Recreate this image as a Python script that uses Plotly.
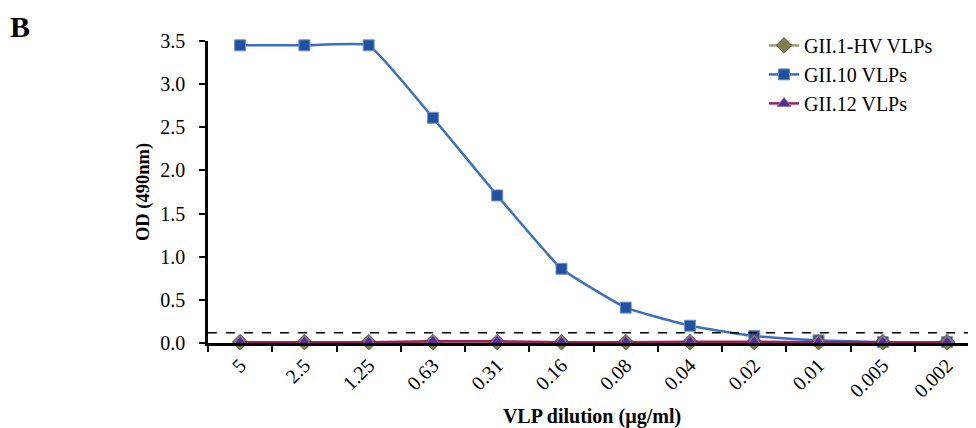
import plotly.graph_objects as go

dilutions = ["5", "2.5", "1.25", "0.63", "0.31", "0.16", "0.08", "0.04", "0.02", "0.01", "0.005", "0.002"]
gii1_hv = [0.01, 0.01, 0.01, 0.01, 0.01, 0.01, 0.01, 0.01, 0.01, 0.01, 0.01, 0.01]
gii10 = [3.45, 3.45, 3.45, 2.61, 1.71, 0.86, 0.41, 0.20, 0.08, 0.03, 0.01, 0.01]
gii12 = [0.01, 0.01, 0.01, 0.02, 0.02, 0.01, 0.01, 0.015, 0.015, 0.01, 0.01, 0.01]
cutoff = 0.12
y_ticks = [0.0, 0.5, 1.0, 1.5, 2.0, 2.5, 3.0, 3.5]

serif = "Liberation Serif, Times New Roman, serif"

fig = go.Figure()
fig.add_trace(go.Scatter(
    x=dilutions, y=gii10, name="GII.10 VLPs", mode="lines+markers",
    line=dict(color="#3a6fc2", width=2.5, shape="spline", smoothing=0.35),
    marker=dict(symbol="square", size=11, color="#22519e", line=dict(color="#6f93cf", width=1)),
    legendrank=2, cliponaxis=False,
))
fig.add_trace(go.Scatter(
    x=dilutions, y=gii1_hv, name="GII.1-HV VLPs", mode="lines+markers",
    line=dict(color="#a09c6c", width=2.5, shape="spline", smoothing=0.35),
    marker=dict(symbol="diamond", size=12, color="#7f7c50", line=dict(color="#5d5b38", width=1)),
    legendrank=1, cliponaxis=False,
))
fig.add_trace(go.Scatter(
    x=dilutions, y=gii12, name="GII.12 VLPs", mode="lines+markers",
    line=dict(color="#9c1f5e", width=2.5, shape="spline", smoothing=0.35),
    marker=dict(symbol="triangle-up", size=12, color="#5a2c92", line=dict(color="#8a73c0", width=1)),
    legendrank=3, cliponaxis=False,
))

fig.add_shape(type="line", xref="paper", yref="y", x0=0, x1=1, y0=cutoff, y1=cutoff,
              line=dict(color="black", width=1.5, dash="dash"))

fig.update_layout(
    width=968, height=420,
    margin=dict(l=200, r=0, t=33, b=85),
    paper_bgcolor="white", plot_bgcolor="white",
    font=dict(family=serif, size=20, color="black"),
    showlegend=True,
    legend=dict(x=0.724, y=1.05, xanchor="left", yanchor="top",
                bgcolor="rgba(0,0,0,0)", font=dict(size=20, family=serif),
                itemwidth=30, tracegroupgap=0),
    annotations=[dict(text="<b>B</b>", xref="paper", yref="paper", x=-0.2604, y=1.109,
                      xanchor="left", yanchor="top", showarrow=False,
                      font=dict(size=30, family=serif))],
)
fig.update_xaxes(
    type="category", range=[-0.5, 11.45],
    showline=True, linecolor="black", linewidth=2.5,
    ticks="outside", tickson="boundaries", ticklen=6, tickwidth=2, tickcolor="black",
    tickangle=-45, tickfont=dict(size=20, family=serif),
    showgrid=False, zeroline=False,
    title=dict(text="<b>VLP dilution (µg/ml)</b>", font=dict(size=20, family=serif), standoff=12),
)
fig.update_yaxes(
    range=[0, 3.5], tickvals=y_ticks, ticktext=[f"{v:.1f}" for v in y_ticks],
    showline=True, linecolor="black", linewidth=2.5,
    ticks="outside", ticklen=6, tickwidth=2, tickcolor="black",
    ticklabelstandoff=10,
    tickfont=dict(size=20, family=serif),
    showgrid=False, zeroline=False,
    title=dict(text="<b>OD (490nm)</b>", font=dict(size=18.5, family=serif), standoff=6),
)

fig.write_html("out.html")
